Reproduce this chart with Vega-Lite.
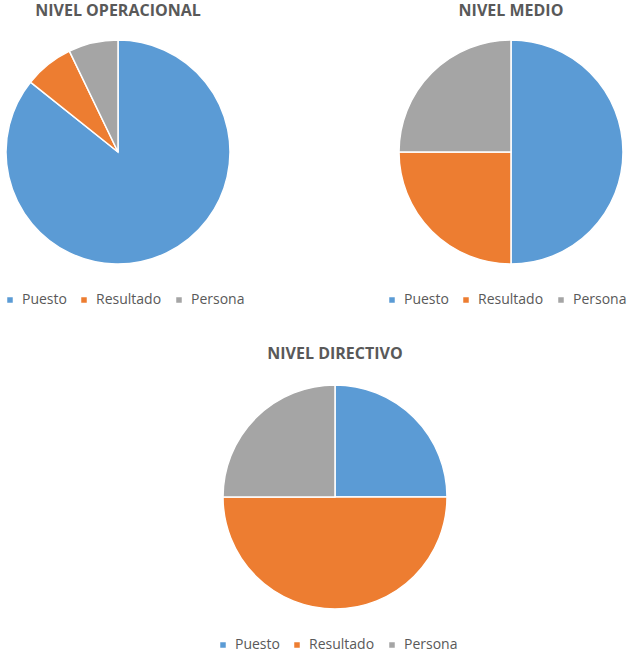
{
  "$schema": "https://vega.github.io/schema/vega-lite/v6.json",
  "padding": {"left": 3, "top": 3, "right": 0, "bottom": 0},
  "background": "white",
  "datasets": {
    "pies": [
      {"nivel": "NIVEL OPERACIONAL", "categoria": "Puesto", "valor": 12, "orden": 1},
      {"nivel": "NIVEL OPERACIONAL", "categoria": "Resultado", "valor": 1, "orden": 2},
      {"nivel": "NIVEL OPERACIONAL", "categoria": "Persona", "valor": 1, "orden": 3},
      {"nivel": "NIVEL MEDIO", "categoria": "Puesto", "valor": 2, "orden": 1},
      {"nivel": "NIVEL MEDIO", "categoria": "Resultado", "valor": 1, "orden": 2},
      {"nivel": "NIVEL MEDIO", "categoria": "Persona", "valor": 1, "orden": 3},
      {"nivel": "NIVEL DIRECTIVO", "categoria": "Puesto", "valor": 1, "orden": 1},
      {"nivel": "NIVEL DIRECTIVO", "categoria": "Resultado", "valor": 2, "orden": 2},
      {"nivel": "NIVEL DIRECTIVO", "categoria": "Persona", "valor": 1, "orden": 3}
    ]
  },
  "bounds": "flush",
  "spacing": 345,
  "resolve": {"legend": {"color": "independent"}},
  "vconcat": [
    {
      "bounds": "flush",
      "spacing": 210,
      "resolve": {"legend": {"color": "independent"}},
      "hconcat": [
        {
          "width": 142,
          "height": 224,
          "title": {"text": "NIVEL OPERACIONAL"},
          "data": {"name": "pies"},
          "transform": [{"filter": "datum.nivel === 'NIVEL OPERACIONAL'"}],
          "mark": {"type": "arc", "outerRadius": 112},
          "encoding": {
            "theta": {"field": "valor", "type": "quantitative", "stack": true},
            "order": {"field": "orden", "type": "quantitative"},
            "color": {
              "field": "categoria", "type": "nominal",
              "scale": {"domain": ["Puesto", "Resultado", "Persona"], "range": ["#5B9BD5", "#ED7D31", "#A5A5A5"]},
              "legend": {"title": null, "legendX": -44, "legendY": 253}
            }
          }
        },
        {
          "width": 224,
          "height": 224,
          "title": {"text": "NIVEL MEDIO"},
          "data": {"name": "pies"},
          "transform": [{"filter": "datum.nivel === 'NIVEL MEDIO'"}],
          "mark": {"type": "arc", "outerRadius": 112},
          "encoding": {
            "theta": {"field": "valor", "type": "quantitative", "stack": true},
            "order": {"field": "orden", "type": "quantitative"},
            "color": {
              "field": "categoria", "type": "nominal",
              "scale": {"domain": ["Puesto", "Resultado", "Persona"], "range": ["#5B9BD5", "#ED7D31", "#A5A5A5"]},
              "legend": {"title": null, "legendX": -14, "legendY": 253}
            }
          }
        }
      ]
    },
    {
      "width": 576,
      "height": 224,
      "title": {"text": "NIVEL DIRECTIVO", "offset": 20},
      "data": {"name": "pies"},
      "transform": [{"filter": "datum.nivel === 'NIVEL DIRECTIVO'"}],
      "mark": {"type": "arc", "outerRadius": 112},
      "encoding": {
        "theta": {"field": "valor", "type": "quantitative", "stack": true},
        "order": {"field": "orden", "type": "quantitative"},
        "color": {
          "field": "categoria", "type": "nominal",
          "scale": {"domain": ["Puesto", "Resultado", "Persona"], "range": ["#5B9BD5", "#ED7D31", "#A5A5A5"]},
          "legend": {"title": null, "legendX": 169, "legendY": 253}
        }
      }
    }
  ],
  "config": {
    "view": {"stroke": null},
    "arc": {"stroke": "white", "strokeWidth": 1.5},
    "title": {
      "anchor": "middle",
      "frame": "group",
      "font": "Open Sans",
      "fontSize": 16,
      "fontWeight": "bold",
      "color": "#595959",
      "baseline": "alphabetic",
      "offset": 18
    },
    "legend": {
      "orient": "none",
      "direction": "horizontal",
      "symbolType": "square",
      "symbolSize": 49,
      "symbolStrokeWidth": 0,
      "labelFont": "Open Sans",
      "labelFontSize": 14,
      "labelColor": "#595959",
      "labelOffset": 5,
      "columnPadding": 10
    }
  }
}
